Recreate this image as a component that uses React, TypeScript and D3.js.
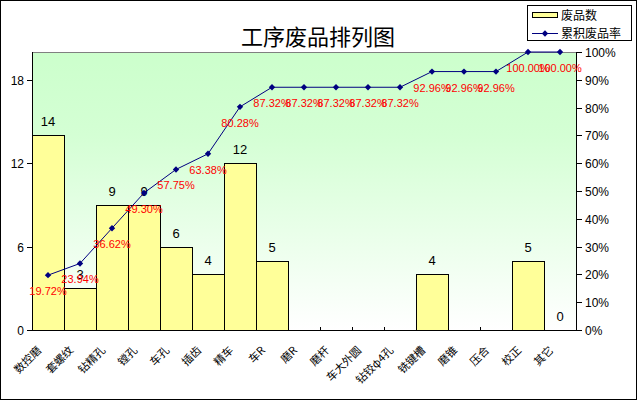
import React from 'react';
import * as d3 from 'd3';

const categories = ['数控磨', '套螺纹', '钻精孔', '镗孔', '车孔', '插齿', '精车', '车R', '磨R', '磨杆', '车大外圆', '钻铰φ4孔', '铣键槽', '磨锥', '压合', '校正', '其它'];
const counts: (number | null)[] = [14, 3, 9, 9, 6, 4, 12, 5, null, null, null, null, 4, null, null, 5, 0];
const cumRate = [19.72, 23.94, 36.62, 49.3, 57.75, 63.38, 80.28, 87.32, 87.32, 87.32, 87.32, 87.32, 92.96, 92.96, 92.96, 100, 100];
const leftTicks = [0, 6, 12, 18];
const rightTicks = [0, 10, 20, 30, 40, 50, 60, 70, 80, 90, 100];

const W = 637;
const H = 401;
const left = 32;
const right = 576;
const top = 52;
const bottom = 330;

const numFont = '"Liberation Sans", Arial, sans-serif';
const cjkFont = '"Noto Sans CJK SC", sans-serif';

export default function App() {
  const x = d3.scaleBand<string>().domain(categories).range([left, right]).padding(0);
  const yCount = d3.scaleLinear().domain([0, 20]).range([bottom, top]);
  const yRate = d3.scaleLinear().domain([0, 100]).range([bottom, top]);
  const cx = (c: string) => (x(c) as number) + x.bandwidth() / 2;

  const line = d3
    .line<number>()
    .x((_, i) => cx(categories[i]))
    .y(d => yRate(d));
  const diamond = d3.symbol(d3.symbolDiamond2, 26)() || '';

  return (
    <svg
      width={W}
      height={H}
      style={{ position: 'absolute', left: 0, top: 0, background: '#fff' }}
    >
      <defs>
        <linearGradient id="bg" x1="0" y1="0" x2="0" y2="1">
          <stop offset="0" stopColor="#ccffcc" />
          <stop offset="0.3" stopColor="#d4ffd4" />
          <stop offset="1" stopColor="#ffffff" />
        </linearGradient>
      </defs>
      <rect x={0.5} y={0.5} width={636} height={399} fill="#fff" stroke="#000" />

      <text x={318} y={45} textAnchor="middle" fontFamily={cjkFont} fontSize={22}>
        工序废品排列图
      </text>

      {/* plot area */}
      <rect x={left} y={top} width={right - left} height={bottom - top} fill="url(#bg)" />
      <line x1={left} x2={right} y1={top + 0.5} y2={top + 0.5} stroke="#808080" shapeRendering="crispEdges" />

      {/* bars */}
      {categories.map((c, i) => {
        const v = counts[i];
        if (v == null || v === 0) return null;
        return (
          <rect
            key={c}
            x={(x(c) as number) + 0.5}
            y={yCount(v) + 0.5}
            width={x.bandwidth()}
            height={bottom - yCount(v)}
            fill="#ffff99"
            stroke="#000"
            shapeRendering="crispEdges"
          />
        );
      })}
      {categories.map((c, i) => {
        const v = counts[i];
        if (v == null) return null;
        return (
          <text key={c} x={cx(c)} y={yCount(v) - 9} textAnchor="middle" fontFamily={numFont} fontSize={13}>
            {v}
          </text>
        );
      })}

      {/* axes */}
      <g stroke="#000" shapeRendering="crispEdges">
        <line x1={left + 0.5} x2={left + 0.5} y1={top} y2={bottom + 1} />
        <line x1={right + 0.5} x2={right + 0.5} y1={top} y2={bottom + 1} />
        <line x1={left} x2={right + 1} y1={bottom + 0.5} y2={bottom + 0.5} />
        {leftTicks.map(t => (
          <line key={t} x1={left - 5} x2={left} y1={yCount(t) + 0.5} y2={yCount(t) + 0.5} />
        ))}
        {rightTicks.map(t => (
          <line key={t} x1={right} x2={right + 6} y1={yRate(t) + 0.5} y2={yRate(t) + 0.5} />
        ))}
        {categories.slice(1).map(c => (
          <line key={c} x1={(x(c) as number) + 0.5} x2={(x(c) as number) + 0.5} y1={bottom - 3} y2={bottom} />
        ))}
      </g>
      {leftTicks.map(t => (
        <text key={t} x={24} y={yCount(t) + 5} textAnchor="end" fontFamily={numFont} fontSize={12}>
          {t}
        </text>
      ))}
      {rightTicks.map(t => (
        <text key={t} x={585} y={yRate(t) + 5} fontFamily={numFont} fontSize={12}>
          {t}%
        </text>
      ))}
      {categories.map(c => (
        <text
          key={c}
          transform={`translate(${cx(c) - 6},351) rotate(-45)`}
          textAnchor="end"
          fontFamily={cjkFont}
          fontSize={11}
        >
          {c}
        </text>
      ))}

      {/* cumulative line */}
      <path d={line(cumRate) || ''} fill="none" stroke="#000080" strokeWidth={1} />
      {cumRate.map((r, i) => (
        <path key={i} d={diamond} transform={`translate(${cx(categories[i])},${yRate(r)})`} fill="#000080" />
      ))}
      {cumRate.map((r, i) => (
        <text
          key={i}
          x={cx(categories[i])}
          y={yRate(r) + 20}
          textAnchor="middle"
          fontFamily={numFont}
          fontSize={11}
          fill="#ff0000"
        >
          {r.toFixed(2)}%
        </text>
      ))}

      {/* legend */}
      <rect x={527.5} y={5.5} width={104} height={35} fill="#fff" stroke="#000" shapeRendering="crispEdges" />
      <rect x={532.5} y={12.5} width={25} height={5} fill="#ffff99" stroke="#000" shapeRendering="crispEdges" />
      <text x={561} y={20} fontFamily={cjkFont} fontSize={12}>
        废品数
      </text>
      <line x1={532} x2={558} y1={33.5} y2={33.5} stroke="#000080" />
      <path d={diamond} transform="translate(545,33.5)" fill="#000080" />
      <text x={561} y={38} fontFamily={cjkFont} fontSize={12}>
        累积废品率
      </text>
    </svg>
  );
}
